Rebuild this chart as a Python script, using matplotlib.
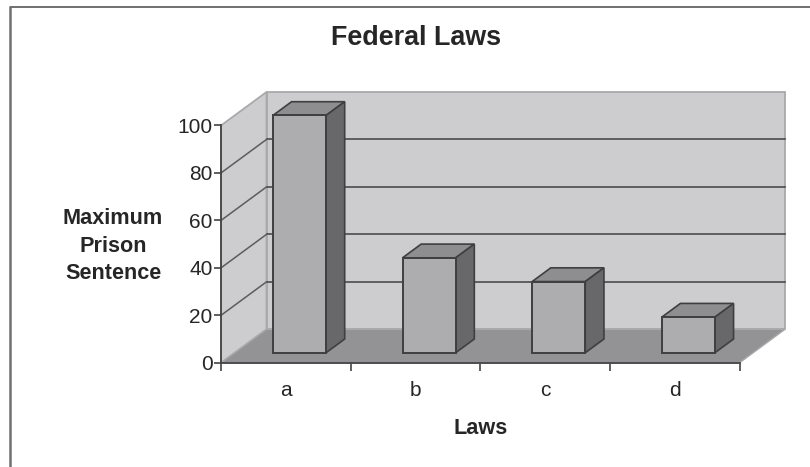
import matplotlib
matplotlib.use('Agg')
import matplotlib.pyplot as plt
from matplotlib.lines import Line2D
from matplotlib.patches import Polygon

plt.rcParams['font.family'] = ['Liberation Sans', 'DejaVu Sans']

# values
laws = ['a', 'b', 'c', 'd']
sentences = [100, 40, 30, 15]
y_ticks = [0, 20, 40, 60, 80, 100]

W, H = 810, 467
fig = plt.figure(figsize=(W / 100, H / 100), dpi=100, facecolor='white')

# front plane of the fake 3d box, in pixels of the reference
left, right, top, bottom = 221, 739.5, 125.5, 362.8
ax = fig.add_axes([left / W, 1 - bottom / H, (right - left) / W, (bottom - top) / H])
ax.patch.set_visible(False)
ax.set_xlim(-0.5, len(laws) - 0.5)
ax.set_ylim(0, 100)

# depth offset of the back wall, converted to data units
dx = 45.5 / ((right - left) / len(laws))
dy = 33.5 / ((bottom - top) / 100)


def proj(x, y, d):
    return (x + d * dx, y + d * dy)


x0, x1 = -0.5, len(laws) - 0.5
wall = '#cdcdcf'
edge = '#3f3f41'


def poly(pts, color, ec='none', lw=1.0, z=1):
    ax.add_patch(Polygon(pts, closed=True, facecolor=color, edgecolor=ec, linewidth=lw,
                         clip_on=False, zorder=z, joinstyle='miter'))


# back wall, side wall, floor
poly([proj(x0, 0, 1), proj(x1, 0, 1), proj(x1, 100, 1), proj(x0, 100, 1)], wall, '#a9a9ab', 1.3)
poly([proj(x0, 0, 0), proj(x0, 0, 1), proj(x0, 100, 1), proj(x0, 100, 0)], wall, '#a9a9ab', 1.3)
poly([proj(x0, 0, 0), proj(x1, 0, 0), proj(x1, 0, 1), proj(x0, 0, 1)], '#939395', '#a9a9ab', 1.0, z=2)

# gridlines: dark on the back wall, softer diagonal on the side wall
for v in y_ticks[1:-1]:
    xs, ys = zip(proj(x0, v, 1), proj(x1, v, 1))
    ax.plot(xs, ys, color=edge, lw=1.1, clip_on=False, zorder=1.5)
    xs, ys = zip(proj(x0, v, 0), proj(x0, v, 1))
    ax.plot(xs, ys, color='#5c5c5e', lw=1.1, clip_on=False, zorder=1.5)

# bars stand between these two depths
d_front, d_back = 0.30, 0.71
bar_w = 0.41
for i, val in enumerate(sentences):
    a, b = i - bar_w / 2, i + bar_w / 2
    poly([proj(a, 0, d_front), proj(b, 0, d_front), proj(b, val, d_front), proj(a, val, d_front)],
         '#adadaf', edge, 1.4, z=5)
    poly([proj(a, val, d_front), proj(b, val, d_front), proj(b, val, d_back), proj(a, val, d_back)],
         '#8e8e90', edge, 1.2, z=4)
    poly([proj(b, 0, d_front), proj(b, 0, d_back), proj(b, val, d_back), proj(b, val, d_front)],
         '#68686a', edge, 1.2, z=4)

for s in ['top', 'right']:
    ax.spines[s].set_visible(False)
for s in ['left', 'bottom']:
    ax.spines[s].set_color('#444446')
    ax.spines[s].set_linewidth(1.3)
    ax.spines[s].set_zorder(6)

ax.set_yticks(y_ticks)
ax.tick_params(axis='y', length=5, width=1.2, color='#444446', labelsize=15, pad=1,
               labelcolor='#262626')
ax.set_xticks([i - 0.5 for i in range(len(laws) + 1)], labels=[])
ax.tick_params(axis='x', which='major', length=6, width=1.2, color='#444446')
ax.set_xticks(range(len(laws)), labels=laws, minor=True)
ax.tick_params(axis='x', which='minor', length=0, labelsize=15, pad=13, labelcolor='#262626')

fig.text(416.5 / W, 1 - 38 / H, 'Federal Laws', ha='center', va='center', fontsize=19.4,
         fontweight='bold', color='#262626')
fig.text(113 / W, 1 - 246 / H, 'Maximum\nPrison\nSentence', ha='center', va='center',
         fontsize=15.6, fontweight='bold', color='#262626', linespacing=1.4)
fig.text(481 / W, 1 - 428 / H, 'Laws', ha='center', va='center', fontsize=15.6,
         fontweight='bold', color='#262626')

# frame of the scanned figure: top and left only
fig.add_artist(Line2D([10.5 / W, 1], [1 - 6.5 / H, 1 - 6.5 / H], color='#707070', lw=1.4))
fig.add_artist(Line2D([10 / W, 10 / W], [0, 1 - 6.5 / H], color='#707070', lw=1.8))

fig.savefig('out.png', dpi=100)
